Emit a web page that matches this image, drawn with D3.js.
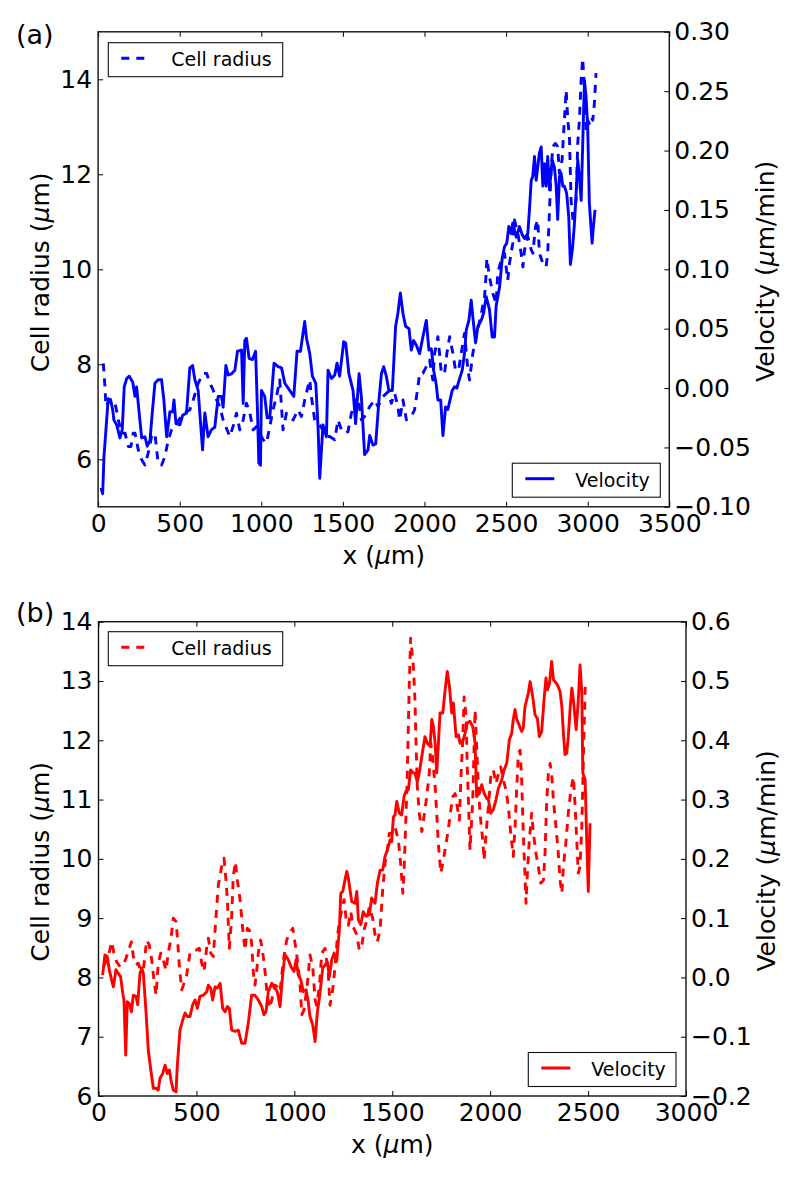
<!DOCTYPE html>
<html><head><meta charset="utf-8">
<script src="https://cdn.jsdelivr.net/npm/d3@7"></script>
<style>
body{margin:0;background:#fff}
svg{display:block;background:#fff}
text{font-family:"DejaVu Sans",sans-serif;fill:#000}
</style>
</head><body>
<svg id="c" width="800" height="1179"></svg>
<script>
// ---------------- Panel (a) data ----------------
const aVelX = [18,28,36,48,62,77,89,97,114,134,148,160,175,191,212,226,236,256,267,287,301,318,328,348,368,389,403,420,440,457,465,477,501,518,542,562,579,593,613,640,654,674,695,715,736,756,766,783,797,818,838,854,879,889,899,909,925,946,965,977,985,995,1001,1021,1036,1052,1078,1103,1124,1144,1174,1199,1219,1240,1266,1277,1297,1313,1334,1348,1358,1378,1399,1409,1430,1450,1464,1480,1505,1517,1537,1562,1578,1599,1613,1633,1654,1664,1684,1701,1721,1736,1750,1766,1782,1803,1823,1837,1852,1868,1884,1905,1919,1933,1950,1970,1990,2011,2027,2042,2056,2072,2082,2099,2113,2129,2143,2170,2184,2198,2215,2231,2245,2256,2272,2286,2296,2313,2327,2348,2362,2378,2398,2415,2429,2439,2460,2476,2490,2504,2517,2531,2541,2562,2582,2599,2613,2633,2643,2654,2663,2674,2684,2694,2704,2715,2725,2735,2745,2755,2766,2782,2796,2807,2816,2827,2837,2847,2857,2871,2884,2894,2908,2919,2929,2939,2949,2960,2969,2980,2990,3000,3010,3027,3035,3045];
const aVel = [-0.084,-0.089,-0.058,-0.035,-0.009,-0.010,-0.018,-0.027,-0.031,-0.042,-0.035,0.001,0.008,0.010,0.005,-0.007,0.001,-0.027,-0.042,-0.041,-0.049,-0.044,-0.027,0.004,0.007,0.007,-0.010,-0.041,-0.020,-0.020,-0.010,-0.030,-0.031,-0.023,-0.021,0.017,0.019,0.007,-0.002,-0.052,-0.021,-0.041,-0.035,-0.033,-0.007,-0.007,-0.016,0.019,0.011,0.012,0.015,0.031,0.032,-0.013,0.040,0.042,0.025,0.024,0.031,-0.021,-0.063,-0.065,-0.002,-0.007,-0.025,-0.025,0.021,0.018,0.017,0.004,-0.002,-0.007,0.031,0.031,0.056,0.042,0.029,0.010,0.004,-0.034,-0.076,-0.031,-0.041,0.015,0.008,0.011,0.021,0.010,0.039,0.038,0.012,-0.002,-0.030,0.012,-0.007,-0.056,-0.052,-0.040,-0.048,-0.047,-0.010,0.012,0.018,0.010,-0.002,-0.002,0.052,0.063,0.080,0.063,0.052,0.050,0.032,0.040,0.036,0.029,0.043,0.057,0.032,0.033,0.015,0.003,-0.010,-0.010,-0.040,-0.016,-0.018,-0.002,0.001,0.000,0.008,0.015,0.029,0.049,0.057,0.074,0.060,0.038,0.052,0.057,0.063,0.077,0.066,0.043,0.043,0.069,0.085,0.109,0.119,0.122,0.136,0.130,0.139,0.127,0.136,0.129,0.126,0.130,0.150,0.175,0.178,0.195,0.175,0.186,0.198,0.203,0.170,0.189,0.170,0.195,0.167,0.192,0.186,0.170,0.142,0.178,0.181,0.170,0.170,0.164,0.144,0.104,0.119,0.139,0.164,0.192,0.178,0.158,0.203,0.259,0.245,0.220,0.156,0.122,0.136,0.150];
const aRadX = [32,42,48,73,97,110,124,144,165,185,201,215,226,246,267,287,307,328,348,359,368,389,409,430,450,481,521,562,583,613,644,665,685,705,726,746,766,787,807,827,848,868,889,909,930,950,971,991,1011,1032,1052,1072,1093,1113,1133,1154,1174,1195,1225,1246,1266,1286,1297,1307,1327,1358,1378,1399,1419,1450,1470,1491,1511,1531,1552,1572,1592,1613,1633,1664,1695,1715,1745,1776,1797,1817,1837,1848,1868,1889,1919,1939,1960,1970,1990,2011,2031,2051,2062,2082,2092,2103,2123,2137,2154,2174,2190,2209,2225,2245,2266,2276,2296,2317,2348,2368,2378,2382,2398,2419,2439,2449,2470,2490,2510,2521,2541,2551,2572,2592,2603,2613,2633,2654,2664,2680,2694,2704,2725,2745,2755,2766,2776,2786,2802,2816,2827,2843,2857,2868,2878,2888,2898,2912,2929,2939,2949,2960,2969,2980,2990,3000,3010,3021,3031,3041,3051];
const aRad = [8.02,7.53,7.11,7.25,7.25,7.08,6.83,6.55,6.55,6.27,6.27,6.55,6.55,6.20,5.99,5.88,6.13,6.48,6.55,6.20,5.92,5.88,6.05,6.41,6.62,6.76,6.97,7.04,7.25,7.60,7.81,7.81,7.60,7.46,7.25,7.11,6.83,6.65,6.48,6.69,6.97,6.62,6.83,7.18,6.97,6.62,6.69,6.55,6.41,6.34,6.69,7.04,7.32,7.67,6.62,6.97,6.90,6.83,7.04,6.90,7.25,7.53,7.67,7.32,6.83,6.72,6.62,6.48,6.48,6.41,6.83,6.62,6.55,6.58,6.97,7.18,7.32,6.83,6.90,7.11,7.25,7.11,7.32,7.42,7.18,7.39,7.11,6.83,7.25,6.83,6.90,7.04,7.53,7.81,7.81,7.95,8.09,7.67,8.23,8.58,8.23,7.81,7.81,8.23,8.58,8.23,7.88,7.88,8.23,8.65,7.88,7.67,8.23,8.58,9.07,9.42,9.92,10.23,9.84,9.49,9.28,9.92,10.20,10.34,9.77,10.13,10.55,11.04,10.76,10.34,10.05,10.41,10.69,10.41,10.34,10.90,11.04,10.34,10.13,10.05,10.34,11.25,12.09,12.58,12.65,12.58,12.02,12.30,13.14,13.77,13.14,12.79,11.46,10.97,11.46,12.65,13.14,13.99,14.44,13.84,12.93,13.14,13.07,13.21,13.14,13.49,14.13];
const aXTicks = [0,500,1000,1500,2000,2500,3000,3500];
const aLTicks = [6,8,10,12,14];
const aRTicks = [-0.10,-0.05,0.00,0.05,0.10,0.15,0.20,0.25,0.30];

// ---------------- Panel (b) data ----------------
const bVelX = [21,33,45,55,67,76,89,101,113,124,130,139,147,157,168,178,192,200,212,221,229,243,254,267,280,294,305,314,328,340,351,362,370,382,396,402,416,430,442,454,467,481,493,505,518,535,553,561,573,583,595,607,621,634,646,658,668,680,697,714,731,748,765,782,799,816,833,845,855,867,885,901,913,927,941,952,969,983,998,1009,1020,1033,1046,1060,1071,1080,1094,1106,1117,1131,1145,1157,1168,1179,1191,1203,1216,1230,1237,1247,1259,1268,1276,1293,1310,1319,1327,1339,1352,1366,1383,1395,1412,1424,1438,1451,1463,1475,1489,1497,1506,1514,1523,1536,1548,1560,1570,1582,1594,1605,1616,1628,1638,1651,1667,1679,1693,1702,1710,1719,1727,1735,1744,1758,1770,1781,1792,1804,1812,1826,1838,1846,1860,1872,1883,1897,1911,1923,1931,1945,1957,1969,1982,1991,2003,2016,2030,2042,2059,2071,2085,2098,2110,2118,2127,2136,2144,2153,2161,2169,2178,2195,2204,2217,2229,2241,2251,2263,2275,2285,2292,2302,2314,2323,2331,2343,2357,2366,2374,2382,2391,2399,2408,2417,2425,2439,2450,2459,2468,2473,2485,2493,2501,2510];
const bVel = [0.004,0.038,0.035,0.013,-0.004,-0.016,0.013,0.007,0.001,-0.027,-0.038,-0.131,-0.041,-0.044,-0.058,-0.030,-0.032,-0.046,0.007,0.016,0.007,-0.060,-0.122,-0.156,-0.187,-0.187,-0.190,-0.170,-0.162,-0.148,-0.162,-0.156,-0.173,-0.190,-0.193,-0.151,-0.089,-0.072,-0.060,-0.066,-0.066,-0.046,-0.038,-0.052,-0.032,-0.030,-0.024,-0.013,-0.018,-0.038,-0.016,-0.018,-0.010,-0.052,-0.058,-0.049,-0.052,-0.089,-0.091,-0.089,-0.111,-0.111,-0.077,-0.030,-0.030,-0.038,-0.049,-0.063,-0.058,-0.024,-0.010,-0.018,-0.024,-0.049,0.007,0.038,0.030,0.018,0.010,0.030,0.004,-0.004,-0.024,-0.021,-0.041,-0.066,-0.080,-0.108,-0.060,-0.027,0.016,0.021,0.027,0.001,0.030,0.041,0.027,0.080,0.142,0.145,0.165,0.179,0.167,0.128,0.125,0.145,0.097,0.089,0.111,0.103,0.106,0.134,0.125,0.159,0.181,0.181,0.204,0.215,0.232,0.229,0.271,0.274,0.297,0.277,0.274,0.305,0.314,0.316,0.350,0.345,0.345,0.330,0.345,0.373,0.406,0.395,0.390,0.435,0.423,0.395,0.345,0.390,0.446,0.446,0.485,0.516,0.491,0.446,0.463,0.406,0.409,0.395,0.398,0.412,0.429,0.432,0.423,0.395,0.305,0.311,0.325,0.311,0.302,0.300,0.277,0.283,0.300,0.319,0.333,0.350,0.362,0.401,0.412,0.435,0.452,0.435,0.429,0.421,0.415,0.421,0.457,0.480,0.499,0.474,0.443,0.437,0.406,0.415,0.468,0.505,0.485,0.494,0.533,0.502,0.499,0.494,0.482,0.457,0.412,0.376,0.378,0.406,0.452,0.488,0.468,0.418,0.468,0.527,0.480,0.345,0.333,0.232,0.145,0.260];
const bRadX = [25,50,67,79,93,110,127,140,154,168,178,192,203,216,229,246,259,272,283,294,305,318,331,345,356,369,382,396,404,413,425,437,450,467,481,498,515,527,539,553,561,573,586,600,612,629,641,651,658,668,680,688,699,709,723,736,748,760,770,782,791,799,808,816,828,839,850,859,872,885,901,913,927,944,961,974,992,1009,1020,1029,1038,1049,1063,1071,1080,1094,1106,1114,1128,1140,1157,1174,1182,1196,1208,1220,1230,1242,1254,1264,1276,1288,1301,1319,1332,1344,1356,1370,1383,1400,1412,1424,1438,1451,1463,1475,1485,1497,1514,1531,1543,1554,1560,1570,1577,1582,1587,1594,1600,1608,1616,1621,1628,1638,1651,1662,1676,1689,1697,1707,1719,1727,1735,1748,1761,1775,1786,1799,1809,1821,1832,1843,1850,1860,1867,1877,1883,1891,1897,1911,1918,1923,1931,1940,1948,1962,1969,1979,1991,2003,2016,2030,2042,2054,2067,2081,2093,2105,2118,2127,2136,2144,2153,2161,2169,2178,2183,2190,2200,2212,2221,2234,2246,2258,2272,2280,2289,2297,2306,2314,2323,2336,2348,2357,2366,2374,2388,2399,2412,2425,2434,2442,2450,2459,2468,2473,2479,2486,2493];
const bRad = [8.18,8.35,8.60,8.41,8.26,8.18,8.21,8.32,8.46,8.60,8.35,8.21,8.24,8.12,8.12,8.63,8.55,8.29,7.96,7.70,8.24,8.41,8.29,8.12,8.41,8.63,9.00,8.94,8.63,8.18,7.79,7.90,8.04,8.41,8.46,8.46,8.49,8.24,8.10,8.52,8.66,8.41,8.35,9.02,9.56,9.87,10.01,9.64,9.31,8.49,9.02,9.70,9.95,9.64,9.31,8.83,8.46,8.83,8.80,8.58,8.07,7.87,8.12,8.41,8.63,8.41,8.12,7.79,7.48,7.62,7.87,7.84,7.76,8.29,8.63,8.74,8.83,8.46,8.18,7.90,7.37,7.45,7.79,8.04,8.38,8.18,7.62,7.53,7.84,8.41,8.49,8.04,7.53,7.79,8.18,8.69,8.94,9.14,9.31,9.00,8.88,9.11,8.85,8.72,8.46,8.52,8.80,8.97,9.19,9.00,8.72,8.60,8.80,9.47,9.92,10.15,10.43,10.43,10.54,10.32,9.92,9.42,9.76,10.71,11.44,12.23,12.96,13.72,13.52,13.24,12.68,12.00,11.22,10.77,10.46,10.71,11.05,11.44,11.95,11.67,11.22,10.77,10.26,9.76,9.98,10.26,10.49,10.82,11.05,11.10,10.88,10.65,11.33,12.00,12.73,12.40,11.55,10.77,10.15,10.99,11.89,12.51,11.89,11.22,10.77,10.32,9.98,10.43,10.88,11.38,11.50,11.27,11.44,11.55,11.33,11.16,10.88,10.43,10.04,10.54,11.22,11.78,11.83,11.33,10.43,9.70,9.25,9.76,10.32,10.77,10.43,10.09,9.87,9.59,9.64,10.09,10.99,11.44,11.61,11.44,10.99,10.54,10.09,9.64,9.42,9.87,10.32,10.77,11.16,11.38,10.88,10.32,9.76,9.87,10.54,11.27,12.12,12.96,12.99];
const bXTicks = [0,500,1000,1500,2000,2500,3000];
const bLTicks = [6,7,8,9,10,11,12,13,14];
const bRTicks = [-0.2,-0.1,0.0,0.1,0.2,0.3,0.4,0.5,0.6];

const legendLabels = ["Cell radius", "Velocity"];
const xLabel = "x (", unitMu = "μ";

const svg = d3.select("#c");
const FS = 25;

function zipXY(xs, ys){ const n = Math.min(xs.length, ys.length); return d3.range(n).map(i => [xs[i], ys[i]]); }

function drawPanel(p){
  const g = svg.append("g");
  const x = d3.scaleLinear().domain(p.xDom).range([p.l, p.r]);
  const yL = d3.scaleLinear().domain(p.yLDom).range([p.b, p.t]);
  const yR = d3.scaleLinear().domain(p.yRDom).range([p.b, p.t]);

  // lines
  g.append("path").datum(zipXY(p.radX, p.rad))
    .attr("d", d3.line().x(d => x(d[0])).y(d => yL(d[1])))
    .attr("fill","none").attr("stroke",p.color).attr("stroke-width",2.9)
    .attr("stroke-dasharray","8,7").attr("stroke-linejoin","round");
  g.append("path").datum(zipXY(p.velX, p.vel))
    .attr("d", d3.line().x(d => x(d[0])).y(d => yR(d[1])))
    .attr("fill","none").attr("stroke",p.color).attr("stroke-width",2.9)
    .attr("stroke-linejoin","round");

  // axes
  const styleAxis = sel => {
    sel.select(".domain").remove();
    sel.selectAll(".tick line").attr("stroke","#000").attr("stroke-width",1);
    sel.selectAll("text").attr("font-size",FS).attr("font-family","DejaVu Sans, sans-serif").attr("fill","#000");
    sel.attr("font-size",null).attr("font-family",null);
  };
  g.append("g").attr("transform",`translate(0,${p.b})`)
    .call(d3.axisBottom(x).tickValues(p.xTicks).tickFormat(d3.format("d")).tickSize(-5).tickPadding(7.5))
    .call(styleAxis);
  g.append("g").attr("transform",`translate(0,${p.t})`)
    .call(d3.axisTop(x).tickValues(p.xTicks).tickFormat("").tickSize(-5))
    .call(styleAxis);
  g.append("g").attr("transform",`translate(${p.l},0)`)
    .call(d3.axisLeft(yL).tickValues(p.lTicks).tickFormat(d3.format("d")).tickSize(-5).tickPadding(6))
    .call(styleAxis);
  g.append("g").attr("transform",`translate(${p.r},0)`)
    .call(d3.axisRight(yR).tickValues(p.rTicks).tickFormat(d3.format(p.rFmt)).tickSize(-5).tickPadding(5))
    .call(styleAxis);

  // frame
  g.append("rect").attr("x",p.l).attr("y",p.t).attr("width",p.r-p.l).attr("height",p.b-p.t)
    .attr("fill","none").attr("stroke","#111").attr("stroke-width",1.4);

  // legends
  const leg = (box, dashed, label) => {
    g.append("rect").attr("x",box[0]).attr("y",box[1]).attr("width",box[2]).attr("height",box[3])
      .attr("fill","#fff").attr("stroke","#111").attr("stroke-width",1.1);
    const ly = box[1] + box[3]/2 - 1.5;
    g.append("line").attr("x1",box[0]+13).attr("x2",box[0]+42).attr("y1",ly).attr("y2",ly)
      .attr("stroke",p.color).attr("stroke-width",3).attr("stroke-dasharray",dashed ? "8,7" : null);
    g.append("text").attr("x",box[0]+63).attr("y",box[1]+box[3]/2+6.5)
      .attr("font-size",19).text(label);
  };
  leg(p.legR, true, legendLabels[0]);
  leg(p.legV, false, legendLabels[1]);

  // axis labels
  const xl = g.append("text").attr("x",(p.l+p.r)/2).attr("y",p.xLabY).attr("text-anchor","middle").attr("font-size",FS);
  xl.append("tspan").text(xLabel);
  xl.append("tspan").attr("font-style","italic").text(unitMu);
  xl.append("tspan").text("m)");

  const yl = g.append("text").attr("transform",`translate(${p.yLX},${(p.t+p.b)/2+3}) rotate(-90)`)
    .attr("text-anchor","middle").attr("font-size",FS);
  yl.append("tspan").text("Cell radius (");
  yl.append("tspan").attr("font-style","italic").text(unitMu);
  yl.append("tspan").text("m)");

  const yr = g.append("text").attr("transform",`translate(${p.yRX},${(p.t+p.b)/2+2}) rotate(-90)`)
    .attr("text-anchor","middle").attr("font-size",FS);
  yr.append("tspan").text("Velocity (");
  yr.append("tspan").attr("font-style","italic").text(unitMu);
  yr.append("tspan").text("m/min)");

  g.append("text").attr("x",16).attr("y",p.tagY).attr("font-size",27).text(p.tag);
}

drawPanel({
  l:98.1, r:669.3, t:31.8, b:506.8,
  xDom:[0,3500], yLDom:[5,15], yRDom:[-0.1,0.3],
  xTicks:aXTicks, lTicks:aLTicks, rTicks:aRTicks, rFmt:".2f",
  color:"#0000ff",
  velX:aVelX, vel:aVel, radX:aRadX, rad:aRad,
  legR:[108.3,42.7,174.4,34], legV:[512.3,463.2,148,34],
  xLabY:564, yLX:49, yRX:774, tag:"(a)", tagY:43.5
});
drawPanel({
  l:98.5, r:686, t:621.7, b:1096,
  xDom:[0,3000], yLDom:[6,14], yRDom:[-0.2,0.6],
  xTicks:bXTicks, lTicks:bLTicks, rTicks:bRTicks, rFmt:".1f",
  color:"#ff0000",
  velX:bVelX, vel:bVel, radX:bRadX, rad:bRad,
  legR:[108.3,631.7,174.4,34], legV:[528.3,1052.5,147.7,34],
  xLabY:1153, yLX:49, yRX:775, tag:"(b)", tagY:621.5
});
</script>
</body></html>
